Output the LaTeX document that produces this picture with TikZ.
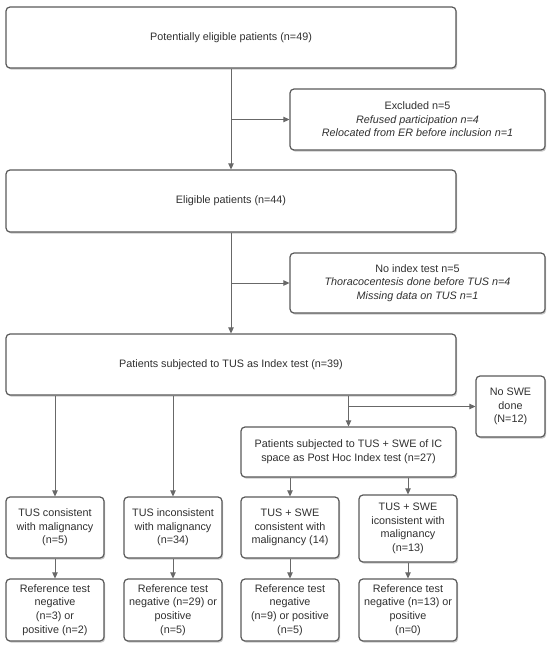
\documentclass[tikz,border=0pt]{standalone}
\usepackage{fontspec}
\setmainfont{Liberation Sans}
\usetikzlibrary{arrows.meta,shadows,calc}
\definecolor{boxline}{HTML}{5A5A5A}
\definecolor{arrline}{HTML}{686868}
\definecolor{txt}{HTML}{303030}
\tikzset{
  flowbox/.style={draw=boxline, line width=1.2pt, rounded corners=4pt, fill=white,
    drop shadow={shadow xshift=1.2pt, shadow yshift=-1.6pt, opacity=0.35, fill=black!60},
    align=center, inner sep=0pt, text=txt,
    font=\fontsize{10.8}{13.6}\selectfont},
  arr/.style={draw=arrline, line width=0.9pt, -{Triangle[length=6pt,width=5.5pt]}},
  plainline/.style={draw=arrline, line width=0.9pt}
}
\begin{document}
\begin{tikzpicture}[x=1pt,y=-1pt]
\useasboundingbox (0,0) rectangle (550,648);
\fill[white] (0,0) rectangle (550,648);
% main column
\node[flowbox, minimum width=450pt, minimum height=61pt] (b1) at (231,37.5) {Potentially eligible patients (n=49)};
\node[flowbox, minimum width=255pt, minimum height=61pt] (ex1) at (417.5,119.5) {Excluded n=5\\\textit{Refused participation n=4}\\\textit{Relocated from ER before inclusion n=1}};
\node[flowbox, minimum width=450pt, minimum height=62pt] (b2) at (231,201) {Eligible patients (n=44)};
\node[flowbox, minimum width=255pt, minimum height=60pt] (ex2) at (417.5,283) {No index test n=5\\\textit{Thoracocentesis done before TUS n=4}\\\textit{Missing data on TUS n=1}};
\node[flowbox, minimum width=450pt, minimum height=61pt] (b3) at (231,364.5) {Patients subjected to TUS as Index test (n=39)};
\node[flowbox, minimum width=69pt, minimum height=61pt] (noswe) at (510.5,406.5) {No SWE\\done\\(N=12)};
\node[flowbox, minimum width=215pt, minimum height=50pt] (swe) at (348.5,452) {Patients subjected to TUS + SWE of IC\\space as Post Hoc Index test (n=27)};
% row 1
\node[flowbox, minimum width=98pt, minimum height=61pt] (ra) at (55,527.5) {TUS consistent\\with malignancy\\(n=5)};
\node[flowbox, minimum width=98pt, minimum height=61pt] (rb) at (173,527.5) {TUS inconsistent\\with malignancy\\(n=34)};
\node[flowbox, minimum width=98pt, minimum height=61pt] (rc) at (290,527.5) {TUS + SWE\\consistent with\\malignancy (14)};
\node[flowbox, minimum width=98pt, minimum height=67pt] (rd) at (408,528.5) {TUS + SWE\\iconsistent with\\malignancy\\(n=13)};
% row 2
\node[flowbox, minimum width=98pt, minimum height=62pt] (sa) at (55,610) {Reference test\\negative\\(n=3) or\\positive (n=2)};
\node[flowbox, minimum width=98pt, minimum height=62pt] (sb) at (173,610) {Reference test\\negative (n=29) or\\positive\\(n=5)};
\node[flowbox, minimum width=98pt, minimum height=62pt] (sc) at (290,610) {Reference test\\negative\\(n=9) or positive\\(n=5)};
\node[flowbox, minimum width=98pt, minimum height=62pt] (sd) at (408,610) {Reference test\\negative (n=13) or\\positive\\(n=0)};
% connectors
\draw[arr] (b1.south) -- (b2.north);
\draw[arr] (b1.south |- ex1.west) -- (ex1.west);
\draw[arr] (b2.south) -- (b3.north);
\draw[arr] (b2.south |- ex2.west) -- (ex2.west);
\coordinate (split) at (b3.south -| swe.north);
\draw[arr] (split) -- (swe.north);
\draw[arr] (split |- noswe.west) -- (noswe.west);
\draw[arr] (b3.south -| ra.north) -- (ra.north);
\draw[arr] (b3.south -| rb.north) -- (rb.north);
\draw[arr] (swe.south -| rc.north) -- (rc.north);
\draw[arr] (swe.south -| rd.north) -- (rd.north);
\draw[arr] (ra.south) -- (sa.north);
\draw[arr] (rb.south) -- (sb.north);
\draw[arr] (rc.south) -- (sc.north);
\draw[arr] (rd.south) -- (sd.north);
\end{tikzpicture}
\end{document}
